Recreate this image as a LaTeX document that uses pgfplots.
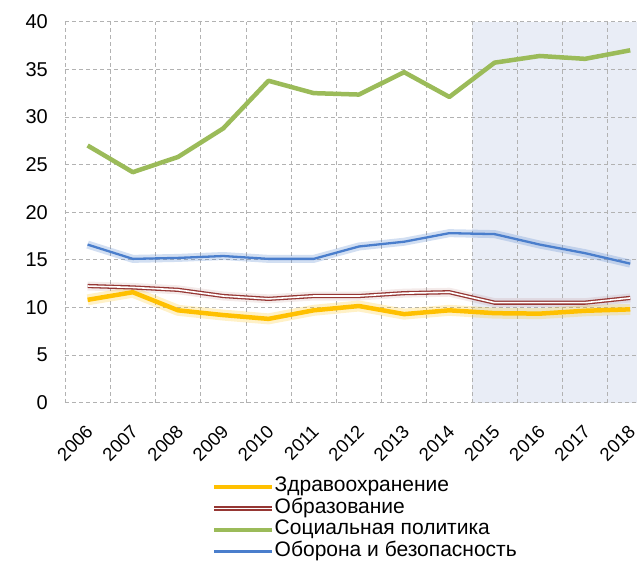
\documentclass[border=0pt]{standalone}
\usepackage{pgfplots}
\pgfplotsset{compat=1.18}
\usepackage{pgfplotstable}
\usepackage{fontspec}
\setmainfont{Liberation Sans}
\usetikzlibrary{calc}
\definecolor{cyel}{RGB}{255,192,0}
\definecolor{cred}{RGB}{150,55,52}
\definecolor{cgrn}{RGB}{155,187,89}
\definecolor{cblu}{RGB}{74,126,204}
\definecolor{cshade}{RGB}{233,237,246}
\pgfplotstableread{
x yel red grn blu
0 10.8 12.25 27.0 16.6
1 11.6 12.1 24.2 15.1
2 9.7 11.85 25.8 15.2
3 9.2 11.2 28.8 15.4
4 8.8 10.9 33.8 15.1
5 9.7 11.2 32.5 15.1
6 10.15 11.2 32.35 16.4
7 9.3 11.5 34.7 16.9
8 9.7 11.6 32.1 17.8
9 9.4 10.5 35.7 17.7
10 9.35 10.5 36.4 16.6
11 9.65 10.5 36.1 15.7
12 9.8 11.0 37.0 14.6
}\data
\begin{document}
\begin{tikzpicture}
\begin{axis}[
  name=ax,
  set layers,
  width=572pt, height=381pt, scale only axis,
  xmin=-0.5, xmax=12.15, ymin=0, ymax=40,
  axis line style={draw=none},
  xtick={0,...,12},
  xticklabels={2006,2007,2008,2009,2010,2011,2012,2013,2014,2015,2016,2017,2018},
  minor xtick={-0.5,0.5,...,12.5},
  ytick={0,5,...,40},
  xminorgrids=true, ymajorgrids=true, xmajorgrids=false,
  grid style={gray!60, line width=0.7pt, dash pattern=on 4pt off 3pt},
  minor grid style={gray!60, line width=0.7pt, dash pattern=on 4pt off 3pt},
  major tick length=0pt, minor tick length=0pt,
  /pgf/number format/assume math mode=true,
  every tick label/.append style={font=\fontsize{20}{22}\selectfont, inner sep=0pt},
  yticklabel shift=17pt,
  xticklabel style={rotate=45, anchor=north east, xshift=-4pt, font=\fontsize{18.5}{20}\selectfont},
  xticklabel shift=18pt,
  legend style={at={(rel axis cs:0.257,-0.196)}, anchor=north west, draw=none, fill=none,
    font=\fontsize{21}{23}\selectfont, inner sep=0pt, row sep=2.5pt,
    nodes={inner sep=0pt, text height=14pt, text depth=5pt}},
  legend cell align=left,
  legend image code/.code={\draw[#1] (0pt,0pt) -- (55pt,0pt); \path (0pt,0pt) -- (58pt,0pt);},
]
\begin{pgfonlayer}{axis background}
\fill[cshade] (axis cs:8.5,0) rectangle (axis cs:12.15,40);
\end{pgfonlayer}
% glows
\addplot[forget plot, cyel, opacity=0.22, line width=11pt, line join=round] table[x=x,y=yel]{\data};
\addplot[forget plot, cred, opacity=0.10, line width=9pt, line join=round] table[x=x,y=red]{\data};
\addplot[forget plot, cblu, opacity=0.25, line width=8pt, line join=round] table[x=x,y=blu]{\data};
% lines
\addplot[cyel, line width=4.5pt, line join=round] table[x=x,y=yel]{\data};
\addlegendentry{Здравоохранение}
\addplot[draw=cred, line width=1.3pt, double=white, double distance=1.6pt, line join=round] table[x=x,y=red]{\data};
\addlegendentry{Образование}
\addplot[cgrn, line width=4.5pt, line join=round] table[x=x,y=grn]{\data};
\addlegendentry{Социальная политика}
\addplot[cblu, line width=2.3pt, line join=round] table[x=x,y=blu]{\data};
\addlegendentry{Оборона и безопасность}
\end{axis}
\pgfresetboundingbox
\path[use as bounding box] ($(ax.south west)+(-65pt,-157.3pt)$) rectangle ($(ax.north east)+(0pt,21.7pt)$);
\end{tikzpicture}
\end{document}
